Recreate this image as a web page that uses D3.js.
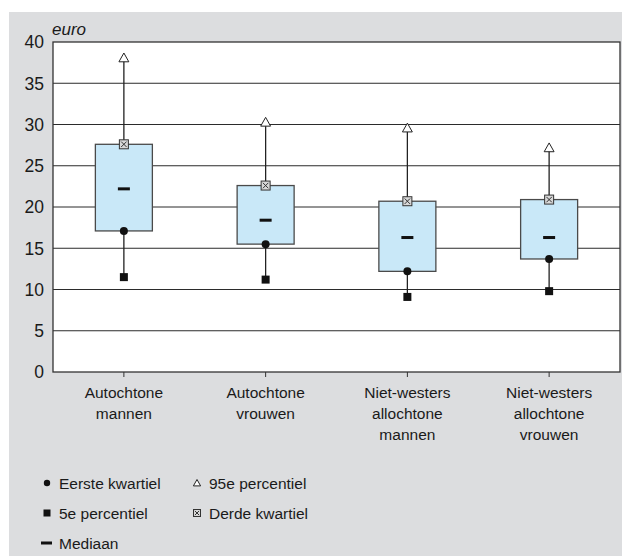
<!DOCTYPE html>
<html lang="nl">
<head>
    <meta charset="UTF-8">
    <title>Uurloon</title>
    <script src="https://cdn.jsdelivr.net/npm/d3@7" type="text/javascript"></script>
    <style>
        body { margin: 0; background: #fff; }
        text { font-family: "Liberation Sans", Arial, sans-serif; fill: #1a1a1a; }
    </style>
</head>
<body>
<svg width="622" height="556"></svg>
<script type="text/javascript">
    // data
    var categories = [["Autochtone", "mannen"], ["Autochtone", "vrouwen"],
        ["Niet-westers", "allochtone", "mannen"], ["Niet-westers", "allochtone", "vrouwen"]];
    var p5 = [11.5, 11.2, 9.1, 9.8];
    var q1 = [17.1, 15.5, 12.2, 13.7];
    var median = [22.2, 18.4, 16.3, 16.3];
    var q3 = [27.6, 22.6, 20.7, 20.9];
    var p95 = [38.0, 30.2, 29.5, 27.1];
    var yTicks = [0, 5, 10, 15, 20, 25, 30, 35, 40];

    var svg = d3.select("svg");
    var marge = {top: 42, left: 53, right: 2, bottom: 184};
    var width = 622 - marge.left - marge.right;
    var height = 556 - marge.top - marge.bottom;

    svg.append("rect").attr("x", 9).attr("y", 12).attr("width", 613).attr("height", 544)
        .attr("fill", "#dcdddf");

    var g = svg.append("g").attr("transform", "translate(" + marge.left + "," + marge.top + ")");

    var xScale = d3.scaleBand().domain(d3.range(categories.length)).range([0, width]);
    var yScale = d3.scaleLinear().domain([0, 40]).range([height, 0]);

    g.append("rect").attr("width", width).attr("height", height).attr("fill", "#fff");

    // gridlines
    g.selectAll(".grid").data(yTicks.slice(1, -1)).enter().append("line")
        .attr("x1", 0).attr("x2", width)
        .attr("y1", function (d) { return yScale(d); })
        .attr("y2", function (d) { return yScale(d); })
        .attr("stroke", "#2b2b2b").attr("stroke-width", 1);

    // y tick labels
    g.selectAll(".ylab").data(yTicks).enter().append("text")
        .attr("x", -9).attr("y", function (d) { return yScale(d); })
        .attr("dy", "0.36em").attr("text-anchor", "end")
        .attr("font-size", "17.5px").text(function (d) { return d; });

    g.append("text").attr("x", -1).attr("y", -7).attr("font-size", "17px")
        .attr("font-style", "italic").text("euro");

    var cx = function (i) { return xScale(i) + xScale.bandwidth() / 2; };
    var boxW = 57;

    var gs = g.selectAll(".box").data(categories).enter().append("g");

    // whiskers
    gs.append("line").attr("x1", function (d, i) { return cx(i); }).attr("x2", function (d, i) { return cx(i); })
        .attr("y1", function (d, i) { return yScale(p95[i]); }).attr("y2", function (d, i) { return yScale(q3[i]); })
        .attr("stroke", "#222").attr("stroke-width", 1.3);
    gs.append("line").attr("x1", function (d, i) { return cx(i); }).attr("x2", function (d, i) { return cx(i); })
        .attr("y1", function (d, i) { return yScale(q1[i]); }).attr("y2", function (d, i) { return yScale(p5[i]); })
        .attr("stroke", "#222").attr("stroke-width", 1.3);

    // boxes
    gs.append("rect")
        .attr("x", function (d, i) { return cx(i) - boxW / 2; })
        .attr("y", function (d, i) { return yScale(q3[i]); })
        .attr("width", boxW)
        .attr("height", function (d, i) { return yScale(q1[i]) - yScale(q3[i]); })
        .attr("fill", "#c9e8f8").attr("stroke", "#4a4a4a").attr("stroke-width", 1.3);

    // markers
    function triangle(sel, x, y, s) {
        sel.append("path").attr("d", "M" + x + "," + (y - s) + "L" + (x + s * 0.9) + "," + (y + s * 0.6) +
            "L" + (x - s * 0.9) + "," + (y + s * 0.6) + "Z")
            .attr("fill", "#fff").attr("stroke", "#222").attr("stroke-width", 1);
    }
    function crossBox(sel, x, y, s) {
        sel.append("rect").attr("x", x - s).attr("y", y - s).attr("width", 2 * s).attr("height", 2 * s)
            .attr("fill", "#d8d8d8").attr("stroke", "#333").attr("stroke-width", 1);
        sel.append("path").attr("d", "M" + (x - s * 0.6) + "," + (y - s * 0.6) + "L" + (x + s * 0.6) + "," + (y + s * 0.6) +
            "M" + (x + s * 0.6) + "," + (y - s * 0.6) + "L" + (x - s * 0.6) + "," + (y + s * 0.6))
            .attr("stroke", "#333").attr("stroke-width", 1);
    }
    gs.each(function (d, i) {
        var s = d3.select(this);
        triangle(s, cx(i), yScale(p95[i]), 5.5);
        crossBox(s, cx(i), yScale(q3[i]), 4.5);
        s.append("rect").attr("x", cx(i) - 6).attr("y", yScale(median[i]) - 1.5).attr("width", 12).attr("height", 3)
            .attr("fill", "#111");
        s.append("circle").attr("cx", cx(i)).attr("cy", yScale(q1[i])).attr("r", 4).attr("fill", "#111");
        s.append("rect").attr("x", cx(i) - 4).attr("y", yScale(p5[i]) - 4).attr("width", 8).attr("height", 8)
            .attr("fill", "#111");
    });

    // frame
    g.append("rect").attr("width", width).attr("height", height).attr("fill", "none")
        .attr("stroke", "#333").attr("stroke-width", 1.3);

    // x ticks and labels
    gs.append("line").attr("x1", function (d, i) { return cx(i); }).attr("x2", function (d, i) { return cx(i); })
        .attr("y1", height).attr("y2", height + 5).attr("stroke", "#333");
    gs.append("text").attr("text-anchor", "middle").attr("font-size", "15.5px")
        .selectAll("tspan").data(function (d, i) { return d.map(function (t) { return {t: t, i: i}; }); })
        .enter().append("tspan")
        .attr("x", function (d) { return cx(d.i); })
        .attr("y", function (d, j) { return height + 26 + j * 21; })
        .text(function (d) { return d.t; });

    // legend
    var legendItems = [
        {label: "Eerste kwartiel", sym: "circle", col: 0, row: 0},
        {label: "95e percentiel", sym: "triangle", col: 1, row: 0},
        {label: "5e percentiel", sym: "square", col: 0, row: 1},
        {label: "Derde kwartiel", sym: "cross", col: 1, row: 1},
        {label: "Mediaan", sym: "dash", col: 0, row: 2}
    ];
    var lg = svg.append("g");
    legendItems.forEach(function (d) {
        var x = 47 + d.col * 150, y = 483 + d.row * 30;
        if (d.sym === "circle") lg.append("circle").attr("cx", x).attr("cy", y).attr("r", 3.2).attr("fill", "#111");
        if (d.sym === "square") lg.append("rect").attr("x", x - 3.5).attr("y", y - 3.5).attr("width", 7).attr("height", 7).attr("fill", "#111");
        if (d.sym === "dash") lg.append("rect").attr("x", x - 6).attr("y", y - 1.5).attr("width", 11).attr("height", 3).attr("fill", "#111");
        if (d.sym === "triangle") triangle(lg, x, y + 0.5, 4);
        if (d.sym === "cross") crossBox(lg, x, y, 3.5);
        lg.append("text").attr("x", x + 12).attr("y", y).attr("dy", "0.36em")
            .attr("font-size", "15.5px").text(d.label);
    });
</script>
</body>
</html>
